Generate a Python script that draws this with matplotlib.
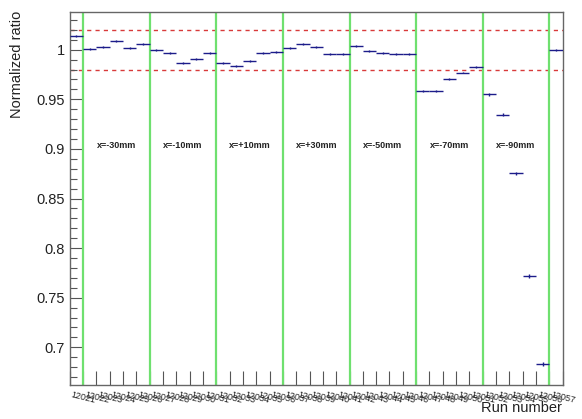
import matplotlib
matplotlib.use("Agg")
import matplotlib.pyplot as plt
from matplotlib.ticker import MultipleLocator

plt.rcParams["font.family"] = ["Liberation Sans", "DejaVu Sans"]

# run numbers, one bin each
runs = [str(r) for r in range(12021, 12058)]

# normalized ratio per run
ratio = [1.0135, 1.001, 1.003, 1.009, 1.002, 1.006,
         1.000, 0.9966, 0.987, 0.991, 0.9963,
         0.9863, 0.9836, 0.989, 0.997, 0.998,
         1.002, 1.0056, 1.003, 0.9956, 0.9956,
         1.004, 0.999, 0.997, 0.9956, 0.996,
         0.9586, 0.958, 0.970, 0.977, 0.983,
         0.955, 0.9346, 0.8756, 0.772, 0.683,
         1.000]
ratio_err = [0.0012, 0.0010, 0.0010, 0.0010, 0.0010, 0.0010,
             0.0010, 0.0010, 0.0010, 0.0010, 0.0010,
             0.0010, 0.0010, 0.0010, 0.0010, 0.0010,
             0.0010, 0.0010, 0.0010, 0.0010, 0.0010,
             0.0010, 0.0010, 0.0010, 0.0010, 0.0010,
             0.0010, 0.0010, 0.0010, 0.0010, 0.0010,
             0.0012, 0.0012, 0.0015, 0.0020, 0.0020,
             0.0010]

# scan positions and the bin edges separating them
positions = ["x=-30mm", "x=-10mm", "x=+10mm", "x=+30mm", "x=-50mm", "x=-70mm", "x=-90mm"]
group_edges = [1, 6, 11, 16, 21, 26, 31, 36]

fig = plt.figure(figsize=(5.82, 4.19), dpi=100)
ax = fig.add_axes([0.1198, 0.0811, 0.8470, 0.8903])

n = len(runs)
xc = [i + 0.5 for i in range(n)]

ax.axhline(1.02, color="#d83a3a", ls=(0, (3, 3)), lw=1.0, zorder=1)
ax.axhline(0.98, color="#d83a3a", ls=(0, (3, 3)), lw=1.0, zorder=1)

for e in group_edges:
    ax.axvline(e, color="#6fe06f", lw=1.6, zorder=2)

for i, name in enumerate(positions):
    mid = 0.5 * (group_edges[i] + group_edges[i + 1])
    ax.text(mid, 0.903, name, ha="center", va="center", fontsize=6.5,
            fontweight="bold", color="#222222")

ax.errorbar(xc, ratio, xerr=0.5, yerr=ratio_err, fmt="none",
            ecolor="#1c1c8a", elinewidth=1.0, capsize=0, zorder=3)

ax.set_xlim(0, n)
ax.set_ylim(0.662, 1.038)

ax.set_xticks(range(n + 1))
ax.set_xticklabels([])
ax.tick_params(axis="x", which="major", direction="in", length=10, width=0.8,
               color="#555555")
for x, lab in zip(xc, runs):
    ax.text(x - 0.3, 0.657, lab, transform=ax.transData, rotation=-14,
            rotation_mode="anchor", ha="left", va="top", fontsize=6.5,
            color="#222222", clip_on=False)

ax.yaxis.set_major_locator(MultipleLocator(0.05))
ax.yaxis.set_minor_locator(MultipleLocator(0.01))
ax.tick_params(axis="y", which="major", direction="in", length=9, width=0.8,
               labelsize=10.5, color="#555555", labelcolor="#222222")
ax.tick_params(axis="y", which="minor", direction="in", length=5, width=0.8,
               color="#555555")
ax.set_yticks([0.7, 0.75, 0.8, 0.85, 0.9, 0.95, 1.0])
ax.set_yticklabels(["0.7", "0.75", "0.8", "0.85", "0.9", "0.95", "1"])

for s in ax.spines.values():
    s.set_color("#666666")
    s.set_linewidth(1.0)

fig.text(0.029, 0.975, "Normalized ratio", rotation=90, ha="center", va="top",
         fontsize=10.5, color="#222222")
fig.text(0.966, 0.043, "Run number", ha="right", va="top", fontsize=10.5,
         color="#222222")

fig.savefig("out.png", dpi=100)
